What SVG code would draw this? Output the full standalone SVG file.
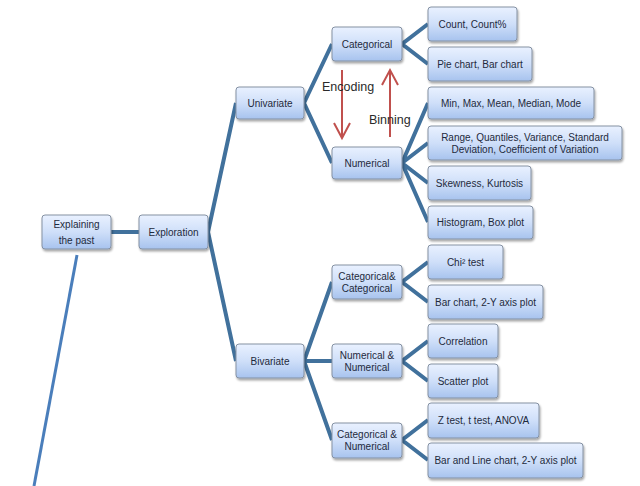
<svg xmlns="http://www.w3.org/2000/svg" width="640" height="486" viewBox="0 0 640 486">
<defs>
<linearGradient id="g" x1="0" y1="0" x2="0" y2="1">
<stop offset="0" stop-color="#e9f1ff"/>
<stop offset="0.5" stop-color="#cfdff9"/>
<stop offset="1" stop-color="#a7c3ee"/>
</linearGradient>
<filter id="sh" x="-10%" y="-10%" width="130%" height="140%">
<feDropShadow dx="1" dy="2" stdDeviation="1.2" flood-color="#000" flood-opacity="0.35"/>
</filter>
</defs>
<style>
.b{fill:url(#g);stroke:#8491a3;stroke-width:1;filter:url(#sh)}
.t{font-family:"Liberation Sans",Arial,sans-serif;font-size:10px;fill:#1e2a3c;text-anchor:middle}
.c{stroke:#41719c;stroke-width:4;fill:none;stroke-linejoin:miter}
.r{stroke:#c0504d;stroke-width:2;fill:none}
.rl{font-family:"Liberation Sans",Arial,sans-serif;font-size:12.5px;fill:#2a2a2a}
</style>
<rect width="640" height="486" fill="#fff"/>
<g id="connectors">
<line x1="77" y1="255" x2="34" y2="486" stroke="#4a7ebb" stroke-width="3"/>
<line class="c" x1="111" y1="232" x2="139" y2="232"/>
<polyline class="c" points="236,103 208,232 236,361"/>
<polyline class="c" points="332,44 304,103 332,163"/>
<path class="c" d="M304,361 L332,282 M304,361 L332,361 M304,361 L332,440"/>
<polyline class="c" points="428,24 402,44 428,64"/>
<path class="c" d="M402,163 L428,103 M402,163 L428,143 M402,163 L428,183 M402,163 L428,222"/>
<polyline class="c" points="428,262 402,282 428,302"/>
<polyline class="c" points="428,341 402,361 428,381"/>
<polyline class="c" points="428,420 402,440 428,460"/>
</g>
<g id="encoding">
<line class="r" x1="342" y1="70" x2="342" y2="138"/>
<polyline class="r" points="334,123 342,138 350,123"/>
<text class="rl" x="322" y="91">Encoding</text>
</g>
<g id="binning">
<line class="r" x1="390" y1="137" x2="390" y2="70"/>
<polyline class="r" points="382,85 390,70 398,85"/>
<text class="rl" x="369" y="124">Binning</text>
</g>
<g id="explaining"><rect class="b" x="42" y="215" width="69" height="34" rx="3"/><text class="t" x="76.5" y="228">Explaining</text><text class="t" x="76.5" y="244">the past</text></g>
<g id="exploration"><rect class="b" x="139" y="215" width="69" height="34" rx="3"/><text class="t" x="173.5" y="236">Exploration</text></g>
<g id="univariate"><rect class="b" x="236" y="87" width="68" height="32" rx="3"/><text class="t" x="270" y="107">Univariate</text></g>
<g id="bivariate"><rect class="b" x="236" y="344" width="68" height="34" rx="3"/><text class="t" x="270" y="365">Bivariate</text></g>
<g id="categorical"><rect class="b" x="332" y="27" width="70" height="34" rx="3"/><text class="t" x="367" y="48">Categorical</text></g>
<g id="numerical"><rect class="b" x="332" y="147" width="70" height="32" rx="3"/><text class="t" x="367" y="167">Numerical</text></g>
<g id="catcat"><rect class="b" x="332" y="265" width="70" height="34" rx="3"/><text class="t" x="367" y="280">Categorical&amp;</text><text class="t" x="367" y="292">Categorical</text></g>
<g id="numnum"><rect class="b" x="332" y="344" width="70" height="34" rx="3"/><text class="t" x="367" y="359">Numerical &amp;</text><text class="t" x="367" y="371">Numerical</text></g>
<g id="catnum"><rect class="b" x="332" y="423" width="70" height="35" rx="3"/><text class="t" x="367" y="438">Categorical &amp;</text><text class="t" x="367" y="450">Numerical</text></g>
<g id="count"><rect class="b" x="428" y="7" width="89" height="34" rx="3"/><text class="t" x="472.5" y="28">Count, Count%</text></g>
<g id="pie"><rect class="b" x="428" y="47" width="104" height="34" rx="3"/><text class="t" x="480" y="68">Pie chart, Bar chart</text></g>
<g id="minmax"><rect class="b" x="428" y="87" width="166" height="32" rx="3"/><text class="t" x="511" y="107">Min, Max, Mean, Median, Mode</text></g>
<g id="range"><rect class="b" x="428" y="126" width="194" height="34" rx="3"/><text class="t" x="525" y="141">Range, Quantiles, Variance, Standard</text><text class="t" x="525" y="153">Deviation, Coefficient of Variation</text></g>
<g id="skew"><rect class="b" x="428" y="166" width="103" height="34" rx="3"/><text class="t" x="479.5" y="187">Skewness, Kurtosis</text></g>
<g id="hist"><rect class="b" x="428" y="206" width="105" height="33" rx="3"/><text class="t" x="480.5" y="226">Histogram, Box plot</text></g>
<g id="chi"><rect class="b" x="428" y="245" width="75" height="34" rx="3"/><text class="t" x="465.5" y="266">Chi² test</text></g>
<g id="barchart"><rect class="b" x="428" y="285" width="115" height="34" rx="3"/><text class="t" x="485.5" y="306">Bar chart, 2-Y axis plot</text></g>
<g id="corr"><rect class="b" x="428" y="324" width="70" height="34" rx="3"/><text class="t" x="463" y="345">Correlation</text></g>
<g id="scatter"><rect class="b" x="428" y="364" width="70" height="34" rx="3"/><text class="t" x="463" y="385">Scatter plot</text></g>
<g id="ztest"><rect class="b" x="428" y="403" width="111" height="35" rx="3"/><text class="t" x="483.5" y="424">Z test, t test, ANOVA</text></g>
<g id="barline"><rect class="b" x="428" y="443" width="155" height="35" rx="3"/><text class="t" x="505.5" y="464">Bar and Line chart, 2-Y axis plot</text></g>
</svg>
